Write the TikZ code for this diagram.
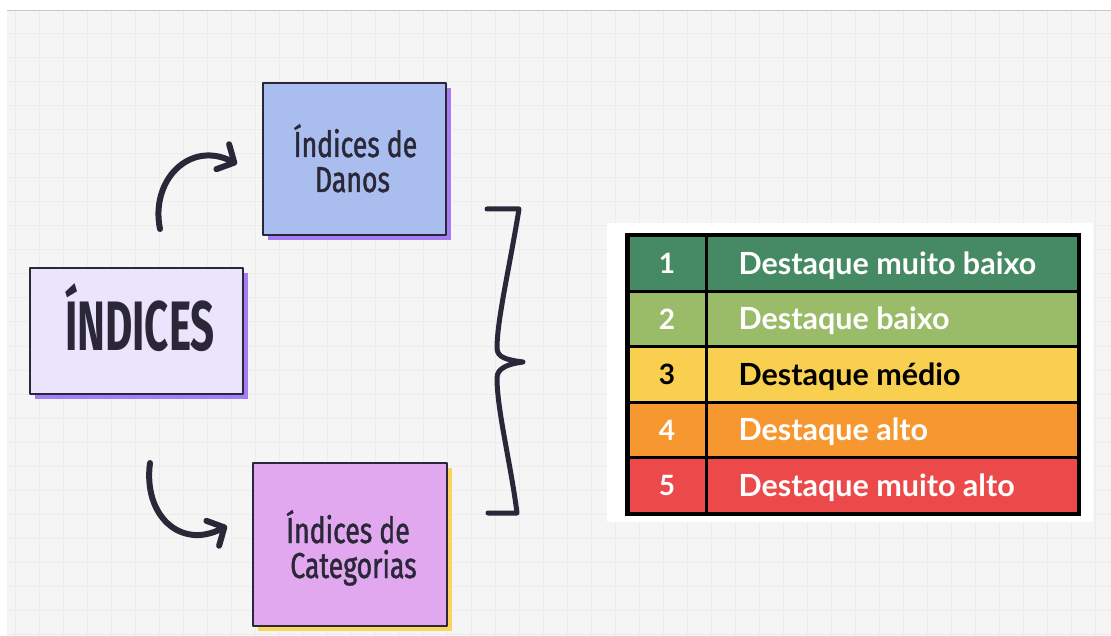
\documentclass[tikz,border=0pt]{standalone}
\usepackage{fontspec}
\setmainfont{Lato}
\newfontfamily\handfont[FakeStretch=0.74,FakeBold=1.2]{Fira Sans}
\newfontfamily\titlefont[FakeStretch=0.6]{Fira Sans}
\usetikzlibrary{arrows.meta}
\definecolor{ink}{HTML}{2A2838}
\definecolor{bggray}{HTML}{F5F5F5}
\definecolor{gridc}{HTML}{ECECEC}
\definecolor{lav}{HTML}{ECE3FD}
\definecolor{peri}{HTML}{A9BDEE}
\definecolor{lilac}{HTML}{E2A8EF}
\definecolor{shpurple}{HTML}{A47CF4}
\definecolor{shyellow}{HTML}{FAD45C}
\definecolor{r1}{HTML}{468A64}
\definecolor{r2}{HTML}{9ABB68}
\definecolor{r3}{HTML}{F8CF4E}
\definecolor{r4}{HTML}{F7972F}
\definecolor{r5}{HTML}{EC4A4A}
\tikzset{
  card/.style={draw=ink, line width=2.5pt, inner sep=0pt, line join=round},
  shadowbox/.style={draw=none, inner sep=0pt},
  handtext/.style={text=ink, align=center, font=\handfont\fontsize{36}{35}\selectfont},
  curvearrow/.style={draw=ink, line width=6pt, line cap=round,
    -{Straight Barb[length=13pt, width=28pt, line width=6pt, line cap=round, line join=round]}},
  bracepath/.style={draw=ink, line width=5pt, line cap=round, line join=round},
  cellbox/.style={draw=black, line width=3pt, inner sep=0pt, minimum height=55.4pt},
  numtext/.style={font=\bfseries\fontsize{28}{28}\selectfont, anchor=base},
  rowtext/.style={font=\bfseries\fontsize{30.5}{30.5}\selectfont, anchor=base west},
}
\begin{document}
\begin{tikzpicture}[x=1pt, y=-1pt]
\useasboundingbox (0,0) rectangle (1111,636);
% background
\fill[white] (0,0) rectangle (1111,636);
\fill[bggray] (7,11) rectangle (1111,636);
\foreach \k in {0,...,45} { \draw[gridc, line width=1pt] ({15+24*\k},11) -- ({15+24*\k},636); }
\foreach \k in {0,...,25} { \draw[gridc, line width=1pt] (7,{34+24*\k}) -- (1111,{34+24*\k}); }
\draw[gray!45, line width=1pt] (7,11) -- (1111,11);

% main boxes (shadow first)
\node[shadowbox, fill=shpurple, minimum width=213pt, minimum height=126pt] (idxsh) at (141.5,336) {};
\node[card, fill=lav, minimum width=213pt, minimum height=126pt] (idx) at (136.5,331) {};
\node[text=ink, anchor=base, font=\titlefont\bfseries\fontsize{70}{70}\selectfont] (idxt) at (140,350) {ÍNDICES};

\node[shadowbox, fill=shpurple, minimum width=183pt, minimum height=152pt] (danossh) at (359.5,164) {};
\node[card, fill=peri, minimum width=183pt, minimum height=152pt] (danos) at (354.5,159) {};
\node[handtext, anchor=base] (danost1) at (355.5,157) {Índices de};
\node[handtext, anchor=base] (danost2) at (352.5,192) {Danos};

\node[shadowbox, fill=shyellow, minimum width=194pt, minimum height=163pt] (catsh) at (355,549.5) {};
\node[card, fill=lilac, minimum width=194pt, minimum height=163pt] (cat) at (350,544.5) {};
\node[handtext, anchor=base] (catt1) at (348,543) {Índices de};
\node[handtext, anchor=base] (catt2) at (353.5,578) {Categorias};

% curved arrows
\coordinate (a1s) at (160,229);
\coordinate (a1e) at (237,164);
\coordinate (a2s) at (150,463);
\coordinate (a2e) at (227,526);
\draw[curvearrow] (a1s) .. controls (150,180) and (190,140) .. (a1e);
\draw[curvearrow] (a2s) .. controls (143,515) and (180,550) .. (a2e);

% brace
\coordinate (bt) at (487,209);
\coordinate (bb) at (488,513);
\coordinate (bp) at (523,362);
\draw[bracepath] (bt) -- (519,209) .. controls (510,265) and (497,320) .. (497,348)
  .. controls (497,358) and (508,360) .. (bp)
  .. controls (508,364) and (497,368) .. (497,378)
  .. controls (497,410) and (511,465) .. (517,513) -- (bb);

% table card
\node[fill=white, minimum width=486pt, minimum height=299pt, inner sep=0pt] (tcard) at (850,372.5) {};
\foreach \i/\c/\n/\t/\tc in {1/r1/1/Destaque muito baixo/white,
                             2/r2/2/Destaque baixo/white,
                             3/r3/3/Destaque médio/black,
                             4/r4/4/Destaque alto/white,
                             5/r5/5/Destaque muito alto/white} {
  \node[cellbox, fill=\c, minimum width=78pt] (num\i) at (667,{236+55.4*(\i-1)+27.7}) {};
  \node[cellbox, fill=\c, minimum width=372pt] (txt\i) at (892,{236+55.4*(\i-1)+27.7}) {};
  \node[numtext, text=\tc] (numl\i) at (667,{236+55.4*(\i-1)+38}) {\n};
  \node[rowtext, text=\tc] (txtl\i) at (735,{236+55.4*(\i-1)+38.5}) {\t};
}
\draw[black, line width=3.5pt] (num1.north west) rectangle (txt5.south east);
\end{tikzpicture}
\end{document}
